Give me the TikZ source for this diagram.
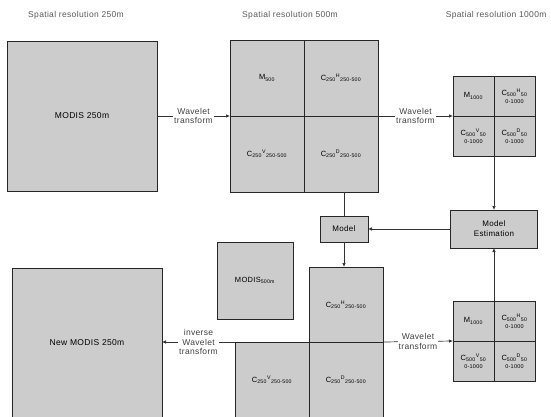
\documentclass[tikz,border=0pt]{standalone}
\usepackage{fontspec}
\setmainfont{Liberation Sans}[LetterSpace=4]
\usetikzlibrary{arrows.meta,calc}
\begin{document}
\begin{tikzpicture}[x=1pt,y=-1pt,
  box/.style={draw=black!85,line width=0.9pt,fill=black!20,inner sep=1pt,outer sep=0pt,align=center,font=\fontsize{8.5}{10}\selectfont},
  qd/.style={box,font=\fontsize{7.5}{8.5}\selectfont},
  hdr/.style={font=\fontsize{8.5}{10}\selectfont,text=black!65},
  lbl/.style={fill=white,inner sep=1pt,align=center,font=\fontsize{8.5}{9.5}\selectfont,text=black!75},
  arr/.style={-{Latex[length=4pt,width=3.5pt]},line width=0.7pt,draw=black!80},
  ln/.style={line width=0.7pt,draw=black!80}]
\useasboundingbox (0,0) rectangle (551,416);
\clip (0,0) rectangle (551,416);
% headers
\node[hdr] (h1) at (76,15) {Spatial resolution 250m};
\node[hdr] (h2) at (290,15) {Spatial resolution 500m};
\node[hdr,anchor=east] (h3) at (550,15) {Spatial resolution 1000m};
% MODIS 250m
\node[box,minimum width=150pt,minimum height=150pt] (m250) at (82,116) {MODIS 250m};
% upper 500 grid
\node[qd,minimum width=74pt,minimum height=76pt] (u1) at (267,78) {M\textsubscript{500}};
\node[qd,minimum width=74pt,minimum height=76pt] (u2) at (341,78) {C\textsubscript{250}\textsuperscript{H}\textsubscript{250-500}};
\node[qd,minimum width=74pt,minimum height=76pt] (u3) at (267,154) {C\textsubscript{250}\textsuperscript{V}\textsubscript{250-500}};
\node[qd,minimum width=74pt,minimum height=76pt] (u4) at (341,154) {C\textsubscript{250}\textsuperscript{D}\textsubscript{250-500}};
% top 1000 grid
\node[qd,minimum width=41pt,minimum height=40pt] (t1) at (473.5,96) {M\textsubscript{1000}};
\node[qd,minimum width=41pt,minimum height=40pt] (t2) at (514.5,96) {C\textsubscript{500}\textsuperscript{H}\textsubscript{50}\\[-1pt]{\fontsize{5.5}{6}\selectfont 0-1000}};
\node[qd,minimum width=41pt,minimum height=40pt] (t3) at (473.5,136) {C\textsubscript{500}\textsuperscript{V}\textsubscript{50}\\[-1pt]{\fontsize{5.5}{6}\selectfont 0-1000}};
\node[qd,minimum width=41pt,minimum height=40pt] (t4) at (514.5,136) {C\textsubscript{500}\textsuperscript{D}\textsubscript{50}\\[-1pt]{\fontsize{5.5}{6}\selectfont 0-1000}};
% model estimation and model
\node[box,minimum width=87pt,minimum height=38pt,font=\fontsize{8}{10}\selectfont] (me) at (494,229) {Model\\Estimation};
\node[box,minimum width=48pt,minimum height=26pt,font=\fontsize{8}{10}\selectfont] (mo) at (344,229) {Model};
% MODIS 500m
\node[qd,minimum width=76pt,minimum height=77pt] (m500) at (255,280.5) {MODIS\textsubscript{500m}};
% lower 500 grid
\node[qd,minimum width=74pt,minimum height=75pt] (l2) at (346,304.5) {C\textsubscript{250}\textsuperscript{H}\textsubscript{250-500}};
\node[qd,minimum width=74pt,minimum height=75pt] (l3) at (272,379.5) {C\textsubscript{250}\textsuperscript{V}\textsubscript{250-500}};
\node[qd,minimum width=74pt,minimum height=75pt] (l4) at (346,379.5) {C\textsubscript{250}\textsuperscript{D}\textsubscript{250-500}};
% bottom 1000 grid
\node[qd,minimum width=41pt,minimum height=40pt] (b1) at (473.5,321) {M\textsubscript{1000}};
\node[qd,minimum width=41pt,minimum height=40pt] (b2) at (514.5,321) {C\textsubscript{500}\textsuperscript{H}\textsubscript{50}\\[-1pt]{\fontsize{5.5}{6}\selectfont 0-1000}};
\node[qd,minimum width=41pt,minimum height=40pt] (b3) at (473.5,361) {C\textsubscript{500}\textsuperscript{V}\textsubscript{50}\\[-1pt]{\fontsize{5.5}{6}\selectfont 0-1000}};
\node[qd,minimum width=41pt,minimum height=40pt] (b4) at (514.5,361) {C\textsubscript{500}\textsuperscript{D}\textsubscript{50}\\[-1pt]{\fontsize{5.5}{6}\selectfont 0-1000}};
% New MODIS 250m
\node[box,minimum width=150pt,minimum height=150pt] (n250) at (87,343) {New MODIS 250m};
% connectors
\draw[arr] (m250.east) -- node[lbl] {Wavelet\\transform} (u1.south west);
\draw[arr] (u2.south east) -- node[lbl] {Wavelet\\transform} (t1.south west);
\draw[arr] (t4.south west) -- (me.north);
\draw[ln] (mo.north |- u4.south) -- (mo.north);
\draw[arr] (me.west) -- (mo.east);
\draw[arr] (mo.south) -- (mo.south |- l2.north);
\draw[arr] (me.south |- b1.north east) -- (me.south);
\draw[arr] (l2.south east) -- node[lbl] {Wavelet\\transform} (b1.south west);
\draw[arr] (l3.north west) -- node[lbl] {inverse\\Wavelet\\transform} (n250.east |- l3.north west);
\end{tikzpicture}
\end{document}
